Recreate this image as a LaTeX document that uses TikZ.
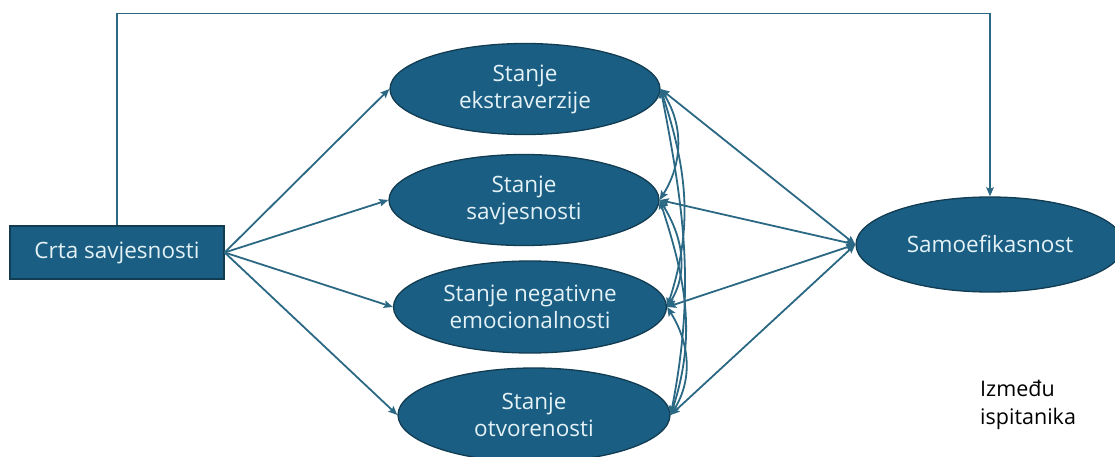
\documentclass[tikz,border=0pt]{standalone}
\usepackage{fontspec}
\setmainfont{Open Sans}
\usetikzlibrary{arrows.meta,shapes.geometric}
\definecolor{fillc}{HTML}{1A5E83}
\definecolor{edgec}{HTML}{113C52}
\definecolor{linec}{HTML}{2B6884}
\definecolor{txtc}{HTML}{E4F1F6}
\begin{document}
\begin{tikzpicture}[x=1pt,y=1pt,
  state/.style={ellipse, draw=edgec, line width=1.3pt, fill=fillc,
    minimum width=270pt, minimum height=91pt, inner sep=0pt, align=center,
    text=txtc, font=\fontsize{22.5}{27}\selectfont},
  trait/.style={rectangle, draw=edgec, line width=1.3pt, fill=fillc,
    minimum width=214pt, minimum height=53pt, inner sep=0pt,
    text=txtc, font=\fontsize{22.5}{27}\selectfont},
  note/.style={align=left, inner sep=0pt, text=black, font=\fontsize{21.5}{28}\selectfont},
  arr/.style={draw=linec, line width=1.8pt, -{Stealth[length=9pt,width=7.5pt,inset=1.5pt]}},
  dbl/.style={draw=linec, line width=1.8pt, {Stealth[length=9pt,width=7.5pt,inset=1.5pt]}-{Stealth[length=9pt,width=7.5pt,inset=1.5pt]}}
]
\useasboundingbox (0,0) rectangle (1115,-457);

\node[trait] (crta) at (117,-252.5) {Crta savjesnosti};
\node[state] (e1) at (525,-89) {Stanje\\ekstraverzije};
\node[state] (e2) at (524,-200) {Stanje\\savjesnosti};
\node[state, minimum width=273pt, minimum height=92pt] (e3) at (530,-307) {Stanje negativne\\emocionalnosti};
\node[state, minimum width=272pt, minimum height=94pt] (e4) at (534,-415) {Stanje\\otvorenosti};
\node[state, minimum width=268pt, minimum height=95pt] (samo) at (990,-244.5) {Samoefikasnost};
\node[note, anchor=north west] (izm) at (980,-380) {Između\\ispitanika};

\coordinate (topc) at (samo.north |- 0,-13.5);

% trait to top route to self-efficacy
\draw[arr] (crta.north) |- (topc) -- (samo.north);

% trait to states
\draw[arr] (crta.east) -- (e1.west);
\draw[arr] (crta.east) -- (e2.west);
\draw[arr] (crta.east) -- (e3.west);
\draw[arr] (crta.east) -- (e4.west);

% states <-> self-efficacy
\draw[dbl] (e1.east) -- (samo.west);
\draw[dbl] (e2.east) -- (samo.west);
\draw[dbl] (e3.east) -- (samo.west);
\draw[dbl] (e4.east) -- (samo.west);

% covariances among states
\draw[dbl] (e1.east) to[out=-58,in=58] (e2.east);
\draw[dbl] (e2.east) to[out=-58,in=58] (e3.east);
\draw[dbl] (e3.east) to[out=-58,in=58] (e4.east);
\draw[dbl] (e1.east) to[out=-72,in=72] (e3.east);
\draw[dbl] (e2.east) to[out=-72,in=72] (e4.east);
\draw[dbl] (e1.east) to[out=-79,in=79] (e4.east);
\end{tikzpicture}
\end{document}
